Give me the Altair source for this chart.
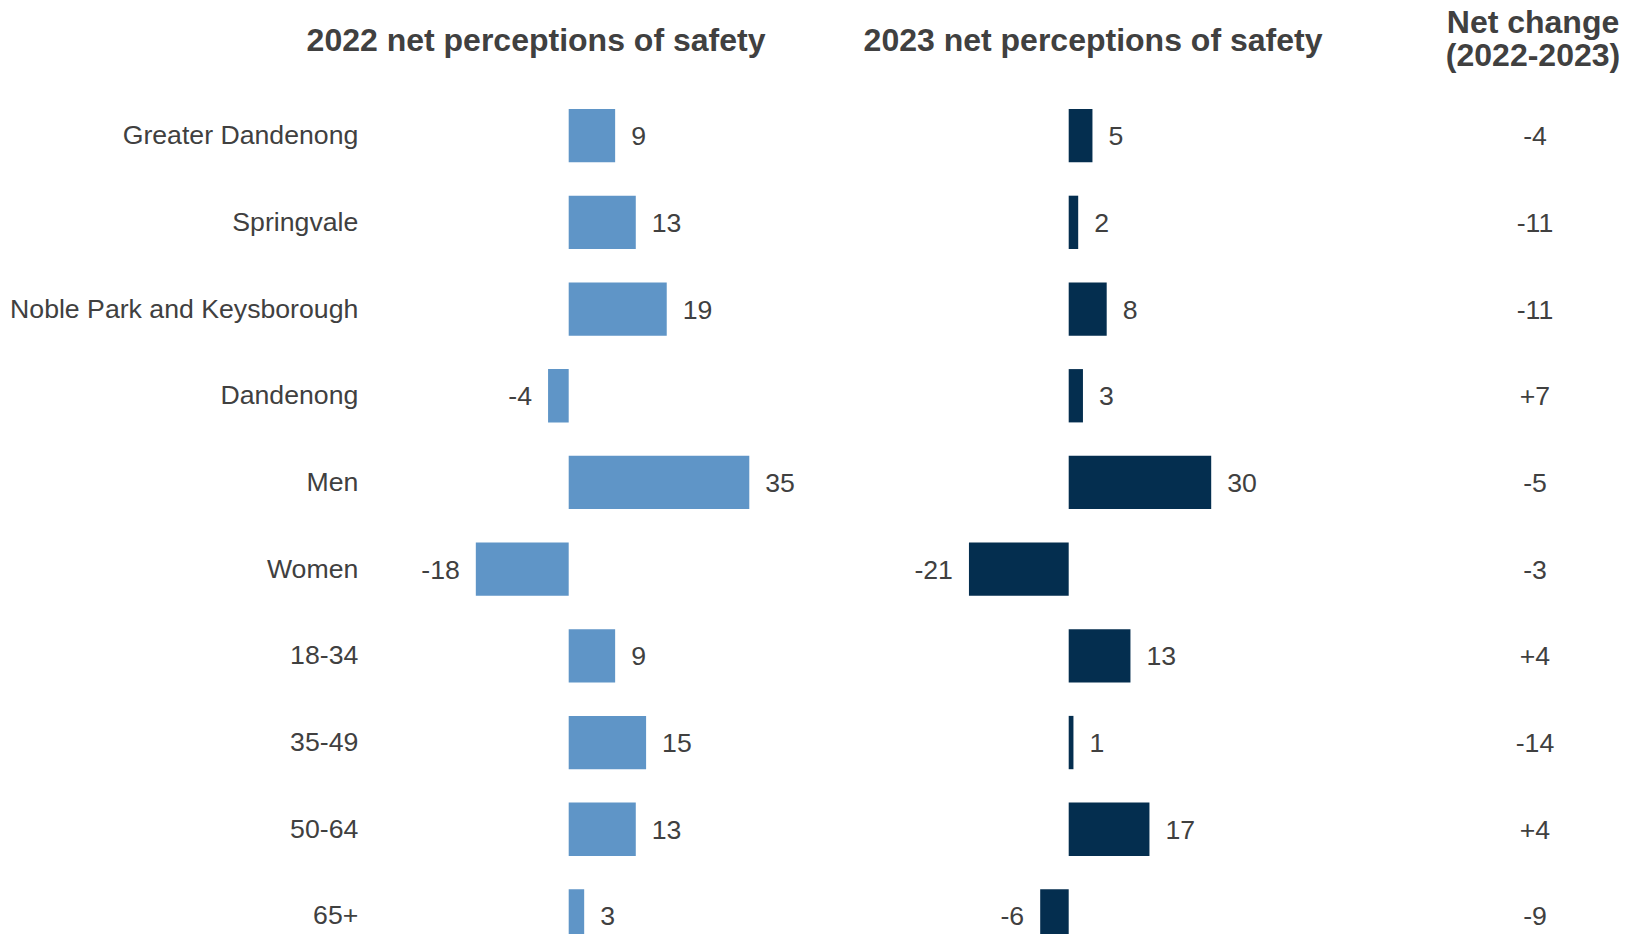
import altair as alt
import pandas as pd

categories = [
    "Greater Dandenong", "Springvale", "Noble Park and Keysborough", "Dandenong",
    "Men", "Women", "18-34", "35-49", "50-64", "65+",
]
net_2022 = [9, 13, 19, -4, 35, -18, 9, 15, 13, 3]
net_2023 = [5, 2, 8, 3, 30, -21, 13, 1, 17, -6]
net_change = ["-4", "-11", "-11", "+7", "-5", "-3", "+4", "-14", "+4", "-9"]

title_2022 = "2022 net perceptions of safety"
title_2023 = "2023 net perceptions of safety"
title_change = ["Net change", "(2022-2023)"]

df = pd.DataFrame({"group": categories, "v2022": net_2022, "v2023": net_2023, "chg": net_change})

FONT = "Liberation Sans"
TXT = "#404040"
C22 = "#5F95C7"
C23 = "#042E4F"

yscale = alt.Scale(domain=categories, range=[84.3, 951.3], paddingInner=0.385, paddingOuter=0.1925)
Y = alt.Y("group:N", scale=yscale, axis=None)


def xscale(zero, ppu):
    return alt.Scale(domain=[-25, 40], range=[zero - 25 * ppu, zero + 40 * ppu], zero=False, nice=False)


s22 = xscale(560.7, 5.16)
s23 = xscale(1060.7, 4.75)

base = alt.Chart(df)


def panel(field, scale, color):
    bars = base.mark_bar(color=color).encode(
        x=alt.X(f"{field}:Q", scale=scale, axis=None), x2=alt.datum(0), y=Y
    )
    lab = base.transform_calculate(lbl=f"'' + datum.{field}")
    pos = lab.transform_filter(f"datum.{field} >= 0").mark_text(
        align="left", baseline="middle", dx=16, dy=1.5
    ).encode(x=alt.X(f"{field}:Q", scale=scale, axis=None), y=Y, text="lbl:N")
    neg = lab.transform_filter(f"datum.{field} < 0").mark_text(
        align="right", baseline="middle", dx=-16, dy=1.5
    ).encode(x=alt.X(f"{field}:Q", scale=scale, axis=None), y=Y, text="lbl:N")
    return [bars, pos, neg]


row_labels = base.mark_text(align="right", baseline="middle", dy=0.5).encode(
    x=alt.value(350.3), y=Y, text="group:N"
)
change_labels = base.mark_text(align="center", baseline="middle", dy=1.5).encode(
    x=alt.value(1527), y=Y, text="chg:N"
)


def title(text, x, y):
    return alt.Chart(pd.DataFrame({"t": [text]})).mark_text(
        fontWeight="bold", fontSize=32, align="center", baseline="alphabetic"
    ).encode(x=alt.value(x), y=alt.value(y), text="t:N")


layers = (
    [row_labels]
    + panel("v2022", s22, C22)
    + panel("v2023", s23, C23)
    + [change_labels,
       title(title_2022, 528, 42.7),
       title(title_2023, 1085, 42.7),
       title(title_change[0], 1525, 24.5),
       title(title_change[1], 1525, 57.5)]
)

chart = (
    alt.layer(*layers)
    .resolve_scale(x="independent")
    .properties(width=1615, height=926, padding=0, autosize="none")
    .configure_view(stroke=None)
    .configure_text(font=FONT, fontSize=26.67, color=TXT)
)

chart.save("out.html", embed_options={"renderer": "svg", "actions": False})
